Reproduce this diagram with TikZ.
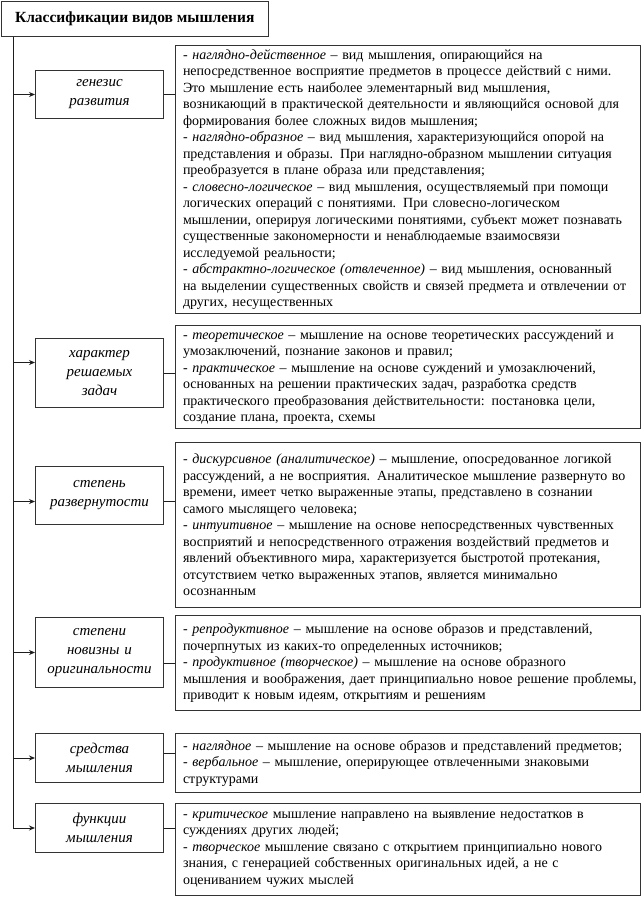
\documentclass[tikz,border=0pt]{standalone}
\usepackage{fontspec}
\setmainfont{Liberation Serif}
\usepackage{tikz}
\usetikzlibrary{positioning,arrows.meta,calc}
\definecolor{ink}{HTML}{1E1E1E}
\definecolor{frame}{HTML}{333333}
\tikzset{
  box/.style={draw=frame,line width=1pt,fill=white,inner sep=0pt},
  headbox/.style={box,anchor=north west,minimum width=267.5pt,minimum height=35.5pt,font=\fontsize{15.5}{18}\selectfont\bfseries},
  kind/.style={box,anchor=north west,align=center,text width=128pt,font=\fontsize{15}{19}\selectfont\itshape},
  desc/.style={box,anchor=north west,align=left,text width=450pt,inner xsep=7.5pt,inner ysep=4pt,font=\fontsize{14}{16.5}\selectfont},
  arrow/.style={-{Stealth[length=6pt,width=5pt]},draw=ink,line width=1pt},
  link/.style={draw=ink,line width=1pt}
}
\newcommand{\term}[1]{\textit{#1}}
\begin{document}
\begin{tikzpicture}[x=1pt,y=-1pt]
  \useasboundingbox (0,0) rectangle (642,898);
  \node[headbox] (head) at (0.5,0.5) {Классификации видов мышления};
  \coordinate (stem) at (13,0);

  \node[kind,minimum height=48pt] (genesis) at (35,70) {генезис\\развития};
  \node[kind,minimum height=69pt] (tasks) at (35,338) {характер\\решаемых\\задач};
  \node[kind,minimum height=58pt] (depth) at (35,466) {степень\\развернутости};
  \node[kind,minimum height=70pt] (novelty) at (35,617) {степени\\новизны и\\оригинальности};
  \node[kind,minimum height=49pt] (means) at (35,733) {средства\\мышления};
  \node[kind,minimum height=49pt] (roles) at (35,803) {функции\\мышления};

  \node[desc,minimum height=267pt] (genesis-list) at (175,45) {- \term{наглядно-действенное} – вид мышления, опирающийся на\\
    непосредственное восприятие предметов в процессе действий с ними.\\
    Это мышление есть наиболее элементарный вид мышления,\\
    возникающий в практической деятельности и являющийся основой для\\
    формирования более сложных видов мышления;\\
    - \term{наглядно-образное} – вид мышления, характеризующийся опорой на\\
    представления и образы. При наглядно-образном мышлении ситуация\\
    преобразуется в плане образа или представления;\\
    - \term{словесно-логическое} – вид мышления, осуществляемый при помощи\\
    логических операций с понятиями. При словесно-логическом\\
    мышлении, оперируя логическими понятиями, субъект может познавать\\
    существенные закономерности и ненаблюдаемые взаимосвязи\\
    исследуемой реальности;\\
    - \term{абстрактно-логическое (отвлеченное)} – вид мышления, основанный\\
    на выделении существенных свойств и связей предмета и отвлечении от\\
    других, несущественных};
  \node[desc,minimum height=103pt] (tasks-list) at (175,325) {- \term{теоретическое} – мышление на основе теоретических рассуждений и\\
    умозаключений, познание законов и правил;\\
    - \term{практическое} – мышление на основе суждений и умозаключений,\\
    основанных на решении практических задач, разработка средств\\
    практического преобразования действительности: постановка цели,\\
    создание плана, проекта, схемы};
  \node[desc,minimum height=165pt] (depth-list) at (175,442) {- \term{дискурсивное (аналитическое)} – мышление, опосредованное логикой\\
    рассуждений, а не восприятия. Аналитическое мышление развернуто во\\
    времени, имеет четко выраженные этапы, представлено в сознании\\
    самого мыслящего человека;\\
    - \term{интуитивное} – мышление на основе непосредственных чувственных\\
    восприятий и непосредственного отражения воздействий предметов и\\
    явлений объективного мира, характеризуется быстротой протекания,\\
    отсутствием четко выраженных этапов, является минимально\\
    осознанным};
  \node[desc,minimum height=95pt] (novelty-list) at (175,615) {- \term{репродуктивное} – мышление на основе образов и представлений,\\
    почерпнутых из каких-то определенных источников;\\
    - \term{продуктивное (творческое)} – мышление на основе образного\\
    \mbox{мышления и воображения, дает принципиально новое решение проблемы,}\\
    приводит к новым идеям, открытиям и решениям};
  \node[desc,minimum height=59pt] (means-list) at (175,733) {- \term{наглядное} – мышление на основе образов и представлений предметов;\\
    - \term{вербальное} – мышление, оперирующее отвлеченными знаковыми\\
    структурами};
  \node[desc,minimum height=92pt] (roles-list) at (175,803) {- \term{критическое} мышление направлено на выявление недостатков в\\
    суждениях других людей;\\
    - \term{творческое} мышление связано с открытием принципиально нового\\
    знания, с генерацией собственных оригинальных идей, а не с\\
    оцениванием чужих мыслей};

  \path (tasks.west) ++(0,-10.5) coordinate (tasks-in);
  \path (depth.west) ++(0,6) coordinate (depth-in);
  \path (depth.east) ++(0,6) coordinate (depth-out);
  \path (novelty.east) ++(0,11) coordinate (novelty-out);
  \path (means.east) ++(0,-4.5) coordinate (means-out);

  \draw[link] (head.south -| stem) -- (stem |- roles.west);
  \draw[arrow] (stem |- genesis.west) -- (genesis.west);
  \draw[arrow] (stem |- tasks-in) -- (tasks-in);
  \draw[arrow] (stem |- depth-in) -- (depth-in);
  \draw[arrow] (stem |- novelty.west) -- (novelty.west);
  \draw[arrow] (stem |- means.west) -- (means.west);
  \draw[arrow] (stem |- roles.west) -- (roles.west);

  \draw[link] (genesis.east) -- (genesis.east -| genesis-list.west);
  \draw[link] (tasks.east) -- (tasks.east -| tasks-list.west);
  \draw[link] (depth-out) -- (depth-out -| depth-list.west);
  \draw[link] (novelty-out) -- (novelty-out -| novelty-list.west);
  \draw[link] (means-out) -- (means-out -| means-list.west);
  \draw[link] (roles.east) -- (roles.east -| roles-list.west);
\end{tikzpicture}
\end{document}
